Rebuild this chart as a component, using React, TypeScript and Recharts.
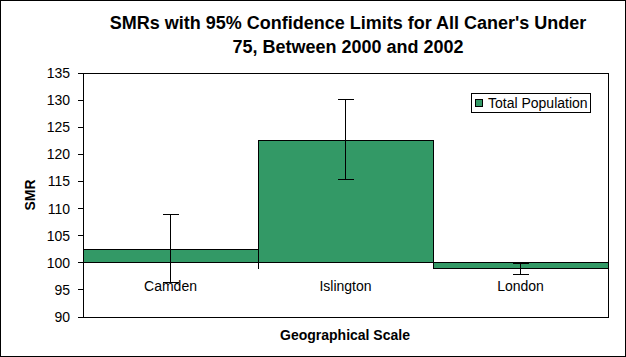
import React from 'react';
import {
  ComposedChart,
  Bar,
  XAxis,
  YAxis,
  ErrorBar,
  ReferenceLine,
  ReferenceArea,
  Legend,
} from 'recharts';

const categories = ['Camden', 'Islington', 'London'];
const smr = [102.5, 122.5, 98.9];
const lowerLimit = [96.3, 115.4, 97.8];
const upperLimit = [108.9, 130.1, 99.8];
const yTicks = [90, 95, 100, 105, 110, 115, 120, 125, 130, 135];
const baseline = 100;
const seriesName = 'Total Population';

const data = categories.map((c, i) => ({
  name: c,
  range: [baseline, smr[i]],
  err: [smr[i] - lowerLimit[i], upperLimit[i] - smr[i]],
}));

const FONT = '"Liberation Sans", Arial, sans-serif';
const GREEN = '#339966';

const CatTick = (props: any) => {
  const { x, y, payload } = props;
  return (
    <text x={x} y={y - 26} textAnchor="middle" fontSize={14} fontFamily={FONT} fill="#000">
      {payload.value}
    </text>
  );
};

const LegendBox = () => (
  <div
    style={{
      boxSizing: 'border-box',
      width: 120,
      height: 20,
      border: '1px solid #000',
      background: '#fff',
      display: 'flex',
      alignItems: 'center',
      fontFamily: FONT,
      fontSize: 14,
      color: '#000',
      paddingLeft: 3,
      whiteSpace: 'nowrap',
    }}
  >
    <span
      style={{
        display: 'inline-block',
        boxSizing: 'border-box',
        width: 8,
        height: 8,
        background: GREEN,
        border: '1px solid #000',
        marginRight: 5,
      }}
    />
    <span>{seriesName}</span>
  </div>
);

export default function App() {
  return (
    <div
      style={{
        position: 'absolute',
        left: 0,
        top: 0,
        width: 626,
        height: 357,
        boxSizing: 'border-box',
        border: '1px solid #000',
        background: '#fff',
        fontFamily: FONT,
      }}
    >
      <style>{`.recharts-wrapper svg line, .recharts-wrapper svg rect, .recharts-wrapper svg path { shape-rendering: crispEdges; }`}</style>
      <div style={{ position: 'absolute', left: -1, top: -1 }}>
        <ComposedChart
          width={626}
          height={357}
          data={data}
          margin={{ top: 73, right: 18, bottom: 20, left: 0 }}
          barCategoryGap={0}
          barGap={0}
        >
          <ReferenceArea y1={90} y2={135} fill="none" stroke="#000" strokeWidth={1} ifOverflow="visible" />
          <XAxis
            dataKey="name"
            height={20}
            axisLine={false}
            tickLine={false}
            tickSize={0}
            tickMargin={0}
            tick={<CatTick />}
            interval={0}
          />
          <YAxis
            width={83}
            domain={[90, 135]}
            ticks={yTicks}
            interval={0}
            allowDataOverflow
            axisLine={{ stroke: '#000' }}
            tickLine={{ stroke: '#000' }}
            tickSize={5}
            tickMargin={8}
            tick={{ fontSize: 14, fontFamily: FONT, fill: '#000' }}
          />
          <Bar
            dataKey="range"
            name={seriesName}
            fill={GREEN}
            stroke="#000"
            strokeWidth={1}
            isAnimationActive={false}
          >
            <ErrorBar dataKey="err" width={8} stroke="#000" strokeWidth={1} direction="y" />
          </Bar>
          <ReferenceLine y={baseline} stroke="#000" strokeWidth={1} />
          <ReferenceLine
            segment={[
              { x: 'Islington', y: baseline },
              { x: 'Islington', y: 98.9 },
            ]}
            position="start"
            stroke="#000"
            strokeWidth={1}
          />
          <Legend
            layout="vertical"
            align="center"
            verticalAlign="middle"
            wrapperStyle={{ left: 471, top: 93, width: 120, height: 20 }}
            content={() => <LegendBox />}
          />
        </ComposedChart>
      </div>
      <div
        style={{
          position: 'absolute',
          left: 47,
          top: 10,
          width: 600,
          textAlign: 'center',
          fontSize: 18,
          fontWeight: 'bold',
          lineHeight: '24px',
          color: '#000',
        }}
      >
        SMRs with 95% Confidence Limits for All Caner's Under
        <br />
        75, Between 2000 and 2002
      </div>
      <div
        style={{
          position: 'absolute',
          left: 29,
          top: 194,
          transform: 'translate(-50%, -50%) rotate(-90deg)',
          fontSize: 14,
          fontWeight: 'bold',
          color: '#000',
          whiteSpace: 'nowrap',
        }}
      >
        SMR
      </div>
      <div
        style={{
          position: 'absolute',
          left: 244,
          top: 326,
          width: 200,
          textAlign: 'center',
          fontSize: 14,
          fontWeight: 'bold',
          lineHeight: '16px',
          color: '#000',
        }}
      >
        Geographical Scale
      </div>
    </div>
  );
}
